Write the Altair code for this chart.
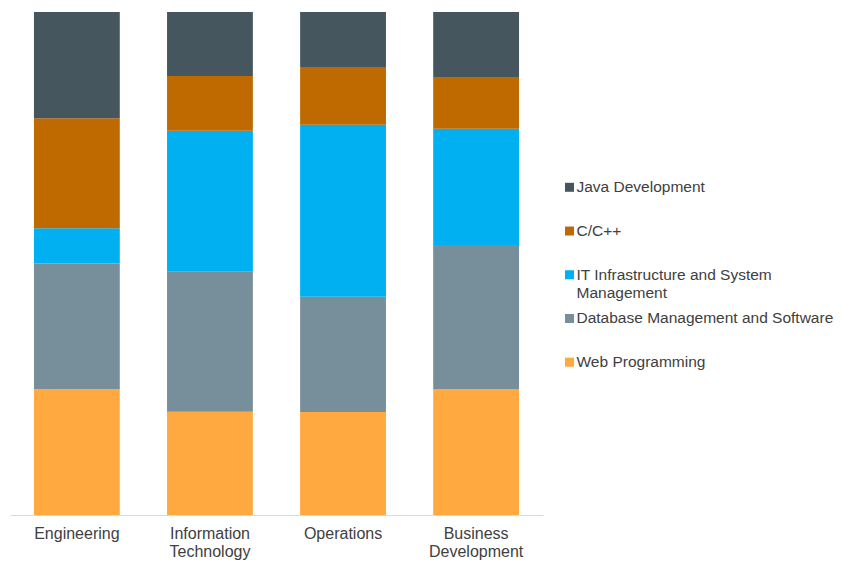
import altair as alt
import pandas as pd

departments = ["Engineering", "Information Technology", "Operations", "Business Development"]
series = ["Web Programming", "Database Management and Software",
          "IT Infrastructure and System Management", "C/C++", "Java Development"]
legend_labels = ["Web Programming", "Database Management and Software",
                 "IT Infrastructure and System|Management", "C/C++", "Java Development"]
colors = ["#FFA940", "#778F9B", "#00B0F0", "#BF6A00", "#46565F"]

web = [25.0, 20.5, 20.5, 25.0]
database = [25.0, 27.8, 22.9, 28.6]
infra = [7.0, 28.0, 34.2, 23.1]
ccpp = [21.9, 10.9, 11.3, 10.3]
java = [21.1, 12.7, 11.1, 12.9]

values = [web, database, infra, ccpp, java]
rows = []
for si, (s, vals) in enumerate(zip(series, values)):
    for d, v in zip(departments, vals):
        rows.append({"department": d, "series": s, "value": v, "rank": si})
df = pd.DataFrame(rows)

leg = pd.DataFrame({"series": series, "label": legend_labels})

color_scale = alt.Scale(domain=series, range=colors)

bars = alt.Chart(df).mark_bar().encode(
    x=alt.X("department:N", sort=departments,
            scale=alt.Scale(paddingInner=0.355, paddingOuter=0.18),
            axis=alt.Axis(title=None, labelAngle=0, ticks=False, grid=False,
                          domainColor="#D9D9D9", labelFont="Liberation Sans",
                          labelFontSize=16, labelColor="#404040", labelPadding=10,
                          labelLineHeight=18, labelBaseline="top",
                          labelExpr="split(datum.label, ' ')")),
    y=alt.Y("value:Q", stack="normalize", axis=None),
    color=alt.Color("series:N", scale=color_scale, legend=None),
    order=alt.Order("rank:Q", sort="ascending"),
)

leg_y = alt.Y("series:N", sort=list(reversed(series)),
              scale=alt.Scale(type="point", range=[175.3, 350.2], padding=0), axis=None)

leg_sym = alt.Chart(leg).mark_square(size=81, opacity=1).encode(
    x=alt.value(559.5),
    y=leg_y,
    color=alt.Color("series:N", scale=color_scale, legend=None),
)

leg_text = alt.Chart(leg).mark_text(
    align="left", baseline="alphabetic", dy=5, font="Liberation Sans",
    fontSize=15.5, color="#404040", lineBreak="|", lineHeight=18
).encode(
    x=alt.value(566.5),
    y=leg_y,
    text="label:N",
)

chart = alt.layer(bars, leg_sym, leg_text).resolve_scale(y="independent").properties(
    width=533, height=503,
    autosize=alt.AutoSizeParams(type="none"),
    padding={"left": 2, "top": 4, "right": 292, "bottom": 46},
).configure_view(stroke=None)

chart.save("out.html", embed_options={"renderer": "svg", "actions": False})
